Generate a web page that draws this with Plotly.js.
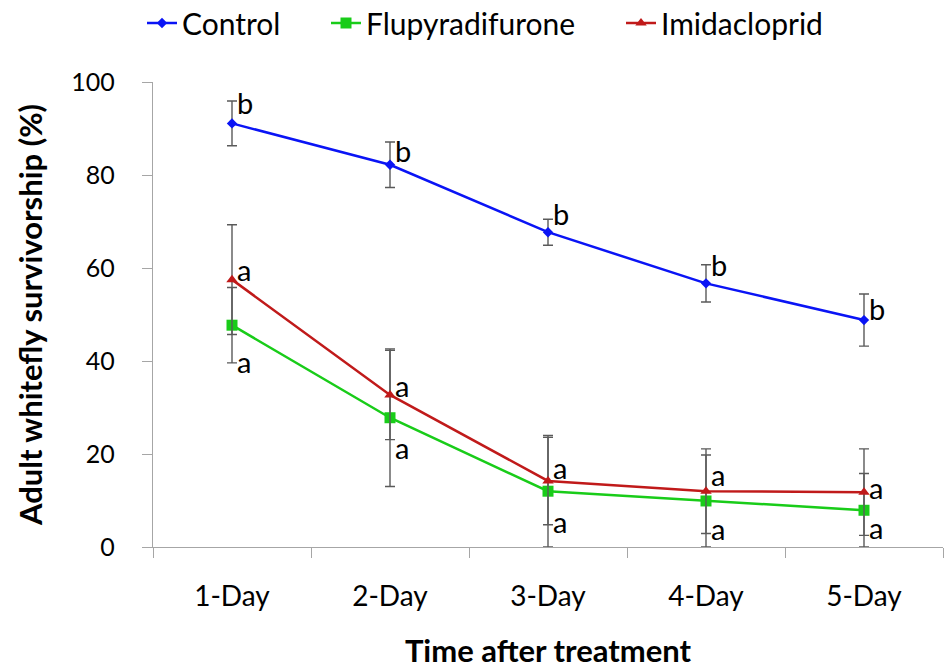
<!DOCTYPE html>
<html>
<head>
<meta charset="utf-8">
<script src="https://cdn.plot.ly/plotly-3.0.1.min.js"></script>
<style>html,body{margin:0;padding:0;background:#fff;}#chart{width:944px;height:669px;}</style>
</head>
<body>
<div id="chart"></div>
<script>
// ---- data ----
const days = ['1-Day', '2-Day', '3-Day', '4-Day', '5-Day'];
const control = [91.1, 82.2, 67.7, 56.7, 48.8];
const controlSE = [4.8, 4.9, 2.8, 4.0, 5.6];
const flupy = [47.7, 27.8, 12.0, 9.9, 7.9];
const flupySE = [8.1, 14.8, 12.0, 9.9, 7.9];
const imida = [57.5, 32.7, 14.2, 12.0, 11.8];
const imidaSE = [11.8, 9.6, 9.4, 9.1, 9.3];
// significance letters and where they sit (y, in axis units)
const controlLetters = ['b', 'b', 'b', 'b', 'b'];
const controlLetterY = [95.6, 85.2, 71.8, 60.8, 51.2];
const imidaLetters = ['a', 'a', 'a', 'a', 'a'];
const imidaLetterY = [59.6, 34.8, 17.2, 15.6, 12.8];
const flupyLetters = ['a', 'a', 'a', 'a', 'a'];
const flupyLetterY = [39.8, 21.4, 5.4, 3.9, 4.2];

const FONT = 'Lato, "Open Sans", sans-serif';
const errStyle = {type: 'data', visible: true, color: '#5a5a5a', thickness: 1.4, width: 5};

function series(name, y, se, color, symbol, size, legendId) {
  return {
    type: 'scatter', mode: 'lines+markers', name: name,
    x: days, y: y,
    line: {color: color, width: 2.5},
    marker: {color: color, symbol: symbol, size: size},
    error_y: Object.assign({array: se}, errStyle),
    cliponaxis: false,
    legend: legendId
  };
}

const traces = [
  series('Control', control, controlSE, '#0a14f5', 'diamond', 8, 'legend'),
  series('Flupyradifurone', flupy, flupySE, '#19cc19', 'square', 11, 'legend2'),
  series('Imidacloprid', imida, imidaSE, '#c01a1a', 'triangle-up', 10, 'legend3')
];

const annotations = [];
function addLetters(letters, ys) {
  letters.forEach((t, i) => annotations.push({
    x: days[i], y: ys[i], xref: 'x', yref: 'y', text: t, showarrow: false,
    xanchor: 'left', yanchor: 'middle', xshift: 3,
    font: {family: FONT, size: 29, color: '#000'}
  }));
}
addLetters(controlLetters, controlLetterY);
addLetters(imidaLetters, imidaLetterY);
addLetters(flupyLetters, flupyLetterY);

// legend boxes are placed in container pixels so they do not push the plot margins
function legendBox(xpx) {
  return {
    orientation: 'h', xref: 'container', yref: 'container',
    x: xpx / 944, xanchor: 'left', y: 1 - 23 / 669, yanchor: 'middle',
    font: {family: FONT, size: 30, color: '#000'}, bgcolor: 'rgba(0,0,0,0)'
  };
}

const layout = {
  width: 944, height: 669,
  margin: {l: 153, r: 1, t: 82, b: 122, autoexpand: false},
  paper_bgcolor: '#fff', plot_bgcolor: '#fff',
  font: {family: FONT, color: '#000'},
  showlegend: true,
  legend: legendBox(142),
  legend2: legendBox(326),
  legend3: legendBox(621),
  xaxis: {
    type: 'category', range: [-0.5, 4.5],
    showline: true, linecolor: '#a6a6a6', linewidth: 1.3,
    ticks: 'outside', tickson: 'boundaries', ticklen: 10, tickcolor: '#a6a6a6',
    tickfont: {family: FONT, size: 28, color: '#000'},
    ticklabelstandoff: 24,
    showgrid: false, zeroline: false,
    title: {text: '<b>Time after treatment</b>', font: {family: FONT, size: 31, color: '#000'}, standoff: 30}
  },
  yaxis: {
    range: [0, 100], dtick: 20,
    showline: true, linecolor: '#a6a6a6', linewidth: 1.3,
    ticks: 'outside', ticklen: 10, tickcolor: '#a6a6a6',
    tickfont: {family: FONT, size: 25, color: '#000'},
    ticklabelstandoff: 22,
    showgrid: false, zeroline: false,
    title: {text: '<b>Adult whitefly survivorship (%)</b>', font: {family: FONT, size: 31, color: '#000'}, standoff: 19}
  },
  annotations: annotations
};

Plotly.newPlot('chart', traces, layout, {displayModeBar: false, staticPlot: true});
</script>
</body>
</html>
